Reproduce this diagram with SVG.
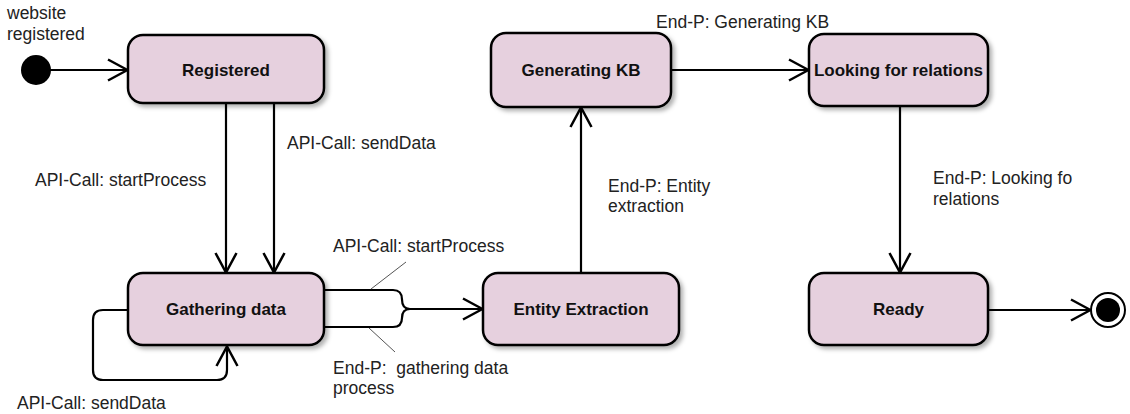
<svg xmlns="http://www.w3.org/2000/svg" width="1130" height="414" viewBox="0 0 1130 414">
  <style>
    .state rect { fill: #e6d0de; stroke: #000; stroke-width: 2.5; filter: url(#shadow); }
    .state text { font-family: "Liberation Sans", Arial, sans-serif; font-size: 17px; font-weight: bold; fill: #111; text-anchor: middle; }
    .edge { fill: none; stroke: #000; stroke-width: 2.2; }
    .arrow { marker-end: url(#open); }
    .leader { fill: none; stroke: #555; stroke-width: 1; }
    .label { font-family: "Liberation Sans", Arial, sans-serif; font-size: 17.5px; fill: #222; }
  </style>
  <defs>
    <filter id="shadow" x="-10%" y="-10%" width="130%" height="140%">
      <feDropShadow dx="3" dy="3" stdDeviation="2" flood-color="#000" flood-opacity="0.3"/>
    </filter>
    <marker id="open" viewBox="0 0 22 24" refX="21" refY="12" markerWidth="22" markerHeight="24" markerUnits="userSpaceOnUse" orient="auto">
      <path d="M1,1.5 L20.5,12 L1,22.5" fill="none" stroke="#000" stroke-width="2.5"/>
    </marker>
  </defs>

  <rect width="1130" height="414" fill="#fff"/>

  <!-- connectors -->
  <g id="connectors">
    <line class="edge arrow" x1="50" y1="70" x2="128" y2="70"/>
    <line class="edge arrow" x1="226" y1="103" x2="226" y2="273"/>
    <line class="edge arrow" x1="274" y1="103" x2="274" y2="273"/>
    <path class="edge arrow" d="M128,310 H103 Q93,310 93,320 V370 Q93,380 103,380 H217 Q227,380 227,370 V346"/>
    <path class="edge" d="M324,290 H393 Q402,290 402,299.5 Q402,309 410,309"/>
    <path class="edge" d="M324,327 H393 Q402,327 402,318 Q402,309 410,309"/>
    <line class="edge arrow" x1="408" y1="309" x2="483" y2="309"/>
    <line class="edge arrow" x1="581" y1="273" x2="581" y2="107"/>
    <line class="edge arrow" x1="671" y1="70" x2="809" y2="70"/>
    <line class="edge arrow" x1="900" y1="106" x2="900" y2="273"/>
    <line class="edge arrow" x1="988" y1="310" x2="1091" y2="310"/>
    <line class="leader" x1="406" y1="262" x2="371" y2="289"/>
    <line class="leader" x1="369" y1="328" x2="395" y2="352"/>
  </g>

  <!-- transition labels -->
  <g id="labels">
    <text class="label" x="7" y="19">website</text>
    <text class="label" x="7" y="40">registered</text>
    <text class="label" x="35" y="186">API-Call: startProcess</text>
    <text class="label" x="287" y="149">API-Call: sendData</text>
    <text class="label" x="333" y="252">API-Call: startProcess</text>
    <text class="label" x="333" y="374" xml:space="preserve">End-P:  gathering data</text>
    <text class="label" x="333" y="394">process</text>
    <text class="label" x="17" y="409">API-Call: sendData</text>
    <text class="label" x="656" y="28">End-P: Generating KB</text>
    <text class="label" x="608" y="192">End-P: Entity</text>
    <text class="label" x="608" y="212">extraction</text>
    <text class="label" x="933" y="184">End-P: Looking fo</text>
    <text class="label" x="933" y="205">relations</text>
  </g>

  <!-- pseudo states -->
  <g id="initial">
    <circle cx="36" cy="70" r="15" fill="#000"/>
  </g>
  <g id="final">
    <circle cx="1108" cy="310" r="17" fill="#fff" stroke="#000" stroke-width="2"/>
    <circle cx="1108" cy="310" r="12" fill="#000"/>
  </g>

  <!-- states -->
  <g id="registered" class="state">
    <rect x="128" y="35" width="196" height="68" rx="15"/>
    <text x="226" y="76">Registered</text>
  </g>
  <g id="gathering-data" class="state">
    <rect x="128" y="273" width="196" height="72" rx="15"/>
    <text x="226" y="315">Gathering data</text>
  </g>
  <g id="entity-extraction" class="state">
    <rect x="483" y="273" width="196" height="72" rx="15"/>
    <text x="581" y="315">Entity Extraction</text>
  </g>
  <g id="generating-kb" class="state">
    <rect x="491" y="33" width="180" height="74" rx="15"/>
    <text x="581" y="76">Generating KB</text>
  </g>
  <g id="looking-for-relations" class="state">
    <rect x="809" y="34" width="179" height="72" rx="15"/>
    <text x="898.5" y="76">Looking for relations</text>
  </g>
  <g id="ready" class="state">
    <rect x="809" y="273" width="179" height="72" rx="15"/>
    <text x="898.5" y="315">Ready</text>
  </g>
</svg>
